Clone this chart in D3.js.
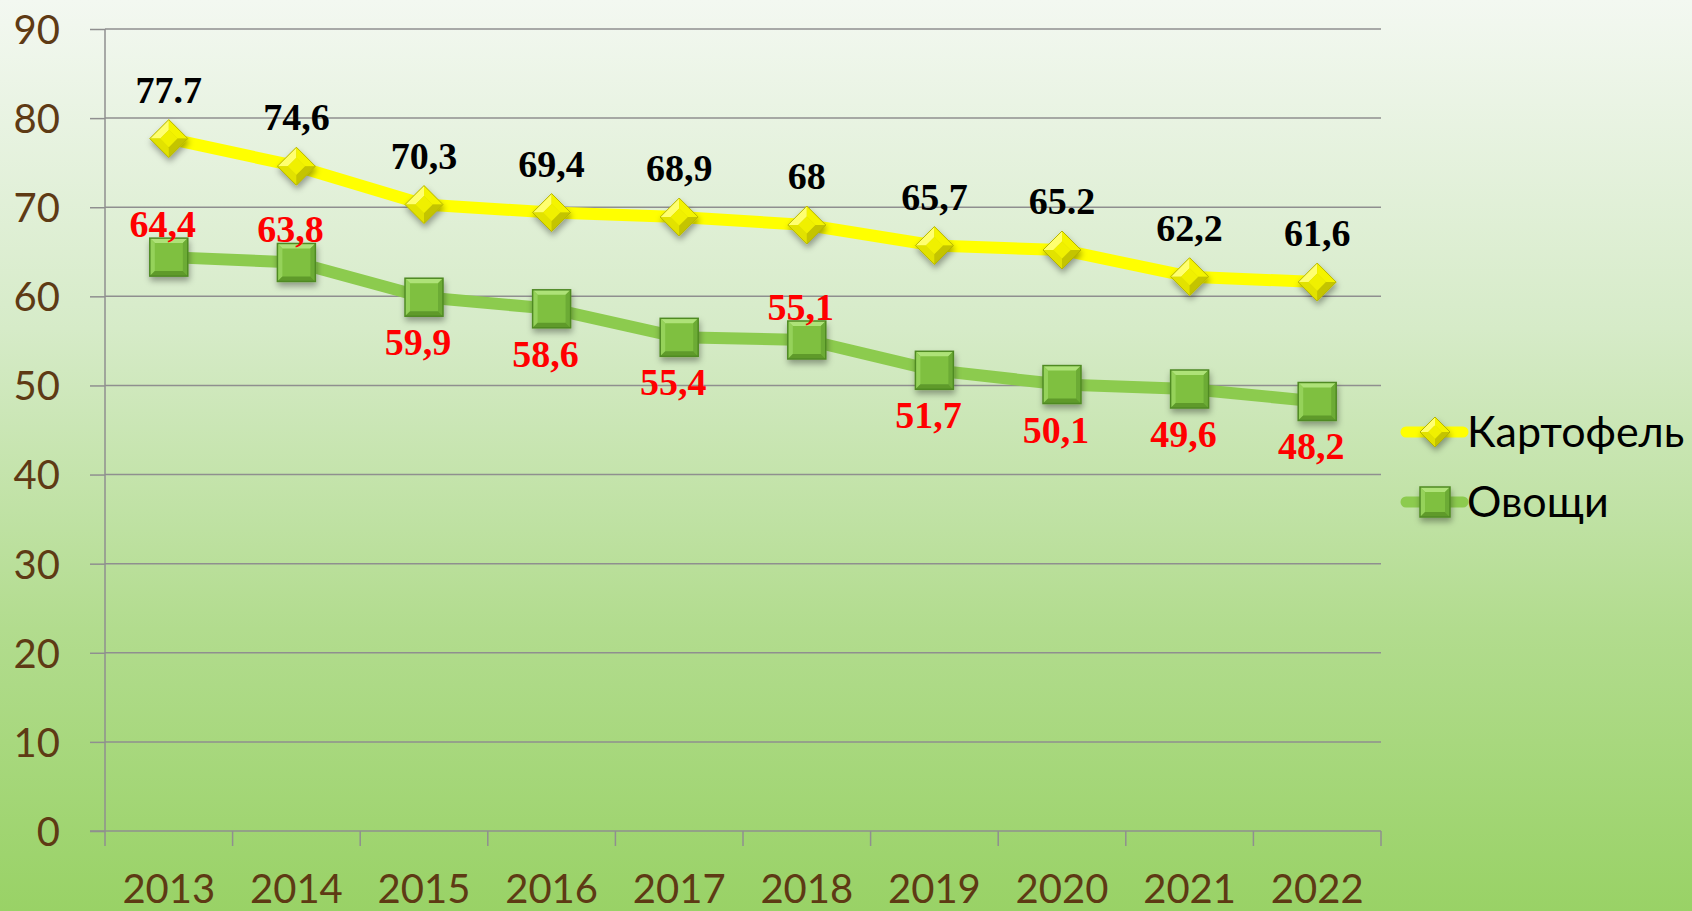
<!DOCTYPE html>
<html>
    <head>
        <meta charset="utf-8">
        <title>Картофель и овощи</title>
        <script src="https://d3js.org/d3.v7.min.js"></script>
    </head>
    <style>
        body { margin: 0; overflow: hidden; }
        .tick text { font-family: Lato, sans-serif; fill: #5e3a14; }
    </style>
    <body>
        <div class="graph"></div>
        <script>
            const years = ['2013', '2014', '2015', '2016', '2017', '2018', '2019', '2020', '2021', '2022'];
            const potato = [77.7, 74.6, 70.3, 69.4, 68.9, 68, 65.7, 65.2, 62.2, 61.6];
            const vegetables = [64.4, 63.8, 59.9, 58.6, 55.4, 55.1, 51.7, 50.1, 49.6, 48.2];
            // labels as written on the original (mixed decimal marks)
            const potatoLabels = ['77.7', '74,6', '70,3', '69,4', '68,9', '68', '65,7', '65.2', '62,2', '61,6'];
            const vegLabels = ['64,4', '63,8', '59,9', '58,6', '55,4', '55,1', '51,7', '50,1', '49,6', '48,2'];
            const vegLabelSide = ['above', 'above', 'below', 'below', 'below', 'above', 'below', 'below', 'below', 'below'];
            const yTicks = [0, 10, 20, 30, 40, 50, 60, 70, 80, 90];
            const seriesNames = ['Картофель', 'Овощи'];

            const width = 1692;
            const height = 911;

            const x = d3.scaleBand()
                .domain(years)
                .range([105, 1381]);

            const y = d3.scaleLinear()
                .domain([0, 90])
                .range([831, 29]);

            const svg = d3.select('.graph')
                .append('svg')
                .attr('width', width)
                .attr('height', height);

            const defs = svg.append('defs');

            const bg = defs.append('linearGradient')
                .attr('id', 'bg')
                .attr('x1', 0).attr('y1', 0).attr('x2', 0).attr('y2', 1);
            bg.append('stop').attr('offset', '0%').attr('stop-color', '#f3f8f1');
            bg.append('stop').attr('offset', '36%').attr('stop-color', '#d6ebc8');
            bg.append('stop').attr('offset', '69%').attr('stop-color', '#b2dc8e');
            bg.append('stop').attr('offset', '100%').attr('stop-color', '#99d266');

            const shadow = defs.append('filter')
                .attr('id', 'shadow')
                .attr('x', '-50%').attr('y', '-50%').attr('width', '200%').attr('height', '200%');
            shadow.append('feDropShadow')
                .attr('dx', 1).attr('dy', 4)
                .attr('stdDeviation', 3)
                .attr('flood-color', '#000')
                .attr('flood-opacity', 0.35);

            svg.append('rect')
                .attr('width', width)
                .attr('height', height)
                .attr('fill', 'url(#bg)');

            // gridlines
            svg.append('g')
                .selectAll('line')
                .data(yTicks.filter(d => d > 0))
                .enter()
                .append('line')
                .attr('x1', 105)
                .attr('x2', 1381)
                .attr('y1', d => y(d))
                .attr('y2', d => y(d))
                .attr('stroke', '#8f8f8f')
                .attr('stroke-width', 1.5);

            const yAxis = d3.axisLeft(y)
                .tickValues(yTicks)
                .tickSize(15)
                .tickPadding(30);

            const yg = svg.append('g')
                .attr('transform', 'translate(105, 0)')
                .call(yAxis);
            yg.selectAll('text').attr('font-size', 40).attr('dy', '0.36em');
            yg.select('.domain').remove();
            yg.selectAll('.tick line').attr('stroke', '#8f8f8f').attr('stroke-width', 1.5);

            // x axis, ticks sit between categories
            const xAxis = d3.axisBottom(x).tickSize(0).tickPadding(44);
            const xg = svg.append('g')
                .attr('transform', 'translate(0, 831)')
                .call(xAxis);
            xg.selectAll('text').attr('font-size', 40);
            xg.select('.domain').remove();
            xg.selectAll('.tick line').remove();

            svg.append('g')
                .selectAll('line')
                .data(years.concat(['end']))
                .enter()
                .append('line')
                .attr('x1', (d, i) => 105 + i * x.step())
                .attr('x2', (d, i) => 105 + i * x.step())
                .attr('y1', 831)
                .attr('y2', 846)
                .attr('stroke', '#8f8f8f')
                .attr('stroke-width', 1.5);

            svg.append('line')
                .attr('x1', 105).attr('x2', 105)
                .attr('y1', 29).attr('y2', 831)
                .attr('stroke', '#8f8f8f').attr('stroke-width', 1.5);
            svg.append('line')
                .attr('x1', 90).attr('x2', 1381)
                .attr('y1', 831).attr('y2', 831)
                .attr('stroke', '#8f8f8f').attr('stroke-width', 1.5);

            const cx = d => x(d) + x.bandwidth() / 2;

            const line = d3.line()
                .x(d => cx(d[0]))
                .y(d => y(d[1]));

            const potatoPts = years.map((yr, i) => [yr, potato[i]]);
            const vegPts = years.map((yr, i) => [yr, vegetables[i]]);

            svg.append('path')
                .datum(vegPts)
                .attr('d', line)
                .attr('fill', 'none')
                .attr('stroke', '#8ccb4e')
                .attr('stroke-width', 12)
                .attr('stroke-linejoin', 'round');

            svg.append('path')
                .datum(potatoPts)
                .attr('d', line)
                .attr('fill', 'none')
                .attr('stroke', '#ffff00')
                .attr('stroke-width', 12)
                .attr('stroke-linejoin', 'round');

            // beveled diamond marker
            function diamond(g, r) {
                const m = g.append('g').attr('filter', 'url(#shadow)');
                const s = r * 0.45;
                m.append('path').attr('d', `M0,${-r} L${r},0 L0,${r} L${-r},0 Z`).attr('fill', '#d6d600');
                m.append('path').attr('d', `M0,${-r} L${-r},0 L${-s},0 L0,${-s} Z`).attr('fill', '#ffff70');
                m.append('path').attr('d', `M0,${-r} L${r},0 L${s},0 L0,${-s} Z`).attr('fill', '#f4f400');
                m.append('path').attr('d', `M0,${r} L${-r},0 L${-s},0 L0,${s} Z`).attr('fill', '#e2e200');
                m.append('path').attr('d', `M0,${r} L${r},0 L${s},0 L0,${s} Z`).attr('fill', '#c4c400');
                m.append('path').attr('d', `M0,${-s} L${s},0 L0,${s} L${-s},0 Z`).attr('fill', '#f0f000');
                m.append('path').attr('d', `M0,${-r} L${r},0 L0,${r} L${-r},0 Z`)
                    .attr('fill', 'none').attr('stroke', '#b5b500').attr('stroke-width', 1);
            }

            // beveled square marker
            function square(g, r) {
                const m = g.append('g').attr('filter', 'url(#shadow)');
                const s = r - 5;
                m.append('rect').attr('x', -r).attr('y', -r).attr('width', 2 * r).attr('height', 2 * r).attr('fill', '#7fc040');
                m.append('path').attr('d', `M${-r},${-r} L${r},${-r} L${s},${-s} L${-s},${-s} Z`).attr('fill', '#aee278');
                m.append('path').attr('d', `M${-r},${-r} L${-s},${-s} L${-s},${s} L${-r},${r} Z`).attr('fill', '#95d25a');
                m.append('path').attr('d', `M${r},${-r} L${s},${-s} L${s},${s} L${r},${r} Z`).attr('fill', '#6cab34');
                m.append('path').attr('d', `M${-r},${r} L${-s},${s} L${s},${s} L${r},${r} Z`).attr('fill', '#5e9a2c');
                m.append('rect').attr('x', -r).attr('y', -r).attr('width', 2 * r).attr('height', 2 * r)
                    .attr('fill', 'none').attr('stroke', '#4f8a24').attr('stroke-width', 1.5);
            }

            svg.append('g')
                .selectAll('g')
                .data(vegPts)
                .enter()
                .append('g')
                .attr('transform', d => `translate(${cx(d[0])}, ${y(d[1])})`)
                .each(function () { square(d3.select(this), 19); });

            svg.append('g')
                .selectAll('g')
                .data(potatoPts)
                .enter()
                .append('g')
                .attr('transform', d => `translate(${cx(d[0])}, ${y(d[1])})`)
                .each(function () { diamond(d3.select(this), 19); });

            // data labels
            svg.append('g')
                .selectAll('text')
                .data(potatoPts)
                .enter()
                .append('text')
                .attr('x', d => cx(d[0]))
                .attr('y', d => y(d[1]) - 36)
                .attr('text-anchor', 'middle')
                .attr('font-family', '"Liberation Serif", "Times New Roman", serif')
                .attr('font-weight', 'bold')
                .attr('font-size', 38)
                .attr('fill', '#000')
                .text((d, i) => potatoLabels[i]);

            svg.append('g')
                .selectAll('text')
                .data(vegPts)
                .enter()
                .append('text')
                .attr('x', d => cx(d[0]) - 6)
                .attr('y', (d, i) => y(d[1]) + (vegLabelSide[i] === 'above' ? -20 : 58))
                .attr('text-anchor', 'middle')
                .attr('font-family', '"Liberation Serif", "Times New Roman", serif')
                .attr('font-weight', 'bold')
                .attr('font-size', 38)
                .attr('fill', '#ff0000')
                .text((d, i) => vegLabels[i]);

            // legend
            const legend = svg.append('g').attr('transform', 'translate(1403, 0)');
            const legendRows = [
                { name: seriesNames[0], y: 432, color: '#ffff00', mark: diamond },
                { name: seriesNames[1], y: 502, color: '#8ccb4e', mark: square }
            ];
            legendRows.forEach(r => {
                legend.append('line')
                    .attr('x1', 3).attr('x2', 60)
                    .attr('y1', r.y).attr('y2', r.y)
                    .attr('stroke', r.color)
                    .attr('stroke-width', 11)
                    .attr('stroke-linecap', 'round');
                const g = legend.append('g').attr('transform', `translate(32, ${r.y})`);
                r.mark(g, 15);
                legend.append('text')
                    .attr('x', 64)
                    .attr('y', r.y)
                    .attr('dy', '0.36em')
                    .attr('font-family', 'Lato, sans-serif')
                    .attr('font-size', 43)
                    .attr('fill', '#000')
                    .text(r.name);
            });
        </script>
    </body>
</html>
